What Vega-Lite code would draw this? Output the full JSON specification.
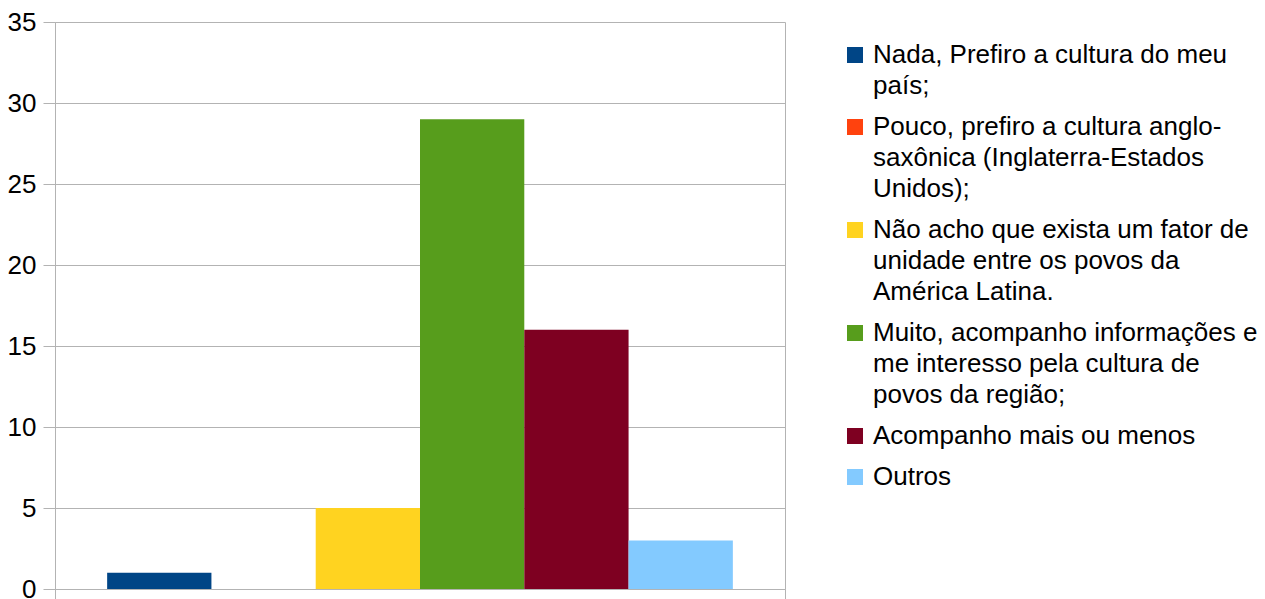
{
  "$schema": "https://vega.github.io/schema/vega-lite/v6.json",
  "width": 730,
  "height": 567,
  "autosize": {"type": "none"},
  "padding": {"left": 55, "top": 22, "right": 480, "bottom": 10},
  "background": "white",
  "config": {
    "font": "Liberation Sans",
    "view": {"stroke": null}
  },
  "data": {
    "values": [
      {"grupo": "1", "resposta": "Nada, Prefiro a cultura do meu país;", "quantidade": 1},
      {"grupo": "1", "resposta": "Pouco, prefiro a cultura anglo-saxônica (Inglaterra-Estados Unidos);", "quantidade": 0},
      {"grupo": "1", "resposta": "Não acho que exista um fator de unidade entre os povos da América Latina.", "quantidade": 5},
      {"grupo": "1", "resposta": "Muito, acompanho informações e me interesso pela cultura de povos da região;", "quantidade": 29},
      {"grupo": "1", "resposta": "Acompanho mais ou menos", "quantidade": 16},
      {"grupo": "1", "resposta": "Outros", "quantidade": 3}
    ]
  },
  "mark": {"type": "bar"},
  "encoding": {
    "x": {
      "field": "grupo",
      "type": "nominal",
      "scale": {"paddingInner": 0, "paddingOuter": 0},
      "axis": {
        "title": null,
        "labels": false,
        "tickBand": "extent",
        "grid": true,
        "gridColor": "#b3b3b3",
        "gridWidth": 1,
        "domainColor": "#b3b3b3",
        "tickColor": "#b3b3b3",
        "tickSize": 15
      }
    },
    "xOffset": {
      "field": "resposta",
      "type": "nominal",
      "sort": null,
      "scale": {"paddingInner": 0, "paddingOuter": 0.5}
    },
    "y": {
      "field": "quantidade",
      "type": "quantitative",
      "scale": {"domain": [0, 35]},
      "axis": {
        "title": null,
        "values": [0, 5, 10, 15, 20, 25, 30, 35],
        "grid": true,
        "gridColor": "#b3b3b3",
        "domainColor": "#b3b3b3",
        "tickColor": "#b3b3b3",
        "tickSize": 12,
        "labelPadding": 7,
        "labelFontSize": 26,
        "labelColor": "#000000"
      }
    },
    "color": {
      "field": "resposta",
      "type": "nominal",
      "sort": null,
      "scale": {
        "domain": [
          "Nada, Prefiro a cultura do meu país;",
          "Pouco, prefiro a cultura anglo-saxônica (Inglaterra-Estados Unidos);",
          "Não acho que exista um fator de unidade entre os povos da América Latina.",
          "Muito, acompanho informações e me interesso pela cultura de povos da região;",
          "Acompanho mais ou menos",
          "Outros"
        ],
        "range": ["#004586", "#ff420e", "#ffd320", "#579d1c", "#7e0021", "#83caff"]
      },
      "legend": {
        "title": null,
        "orient": "right",
        "offset": 37,
        "padding": 20,
        "symbolType": "square",
        "symbolSize": 256,
        "symbolStrokeWidth": 0,
        "labelFontSize": 26,
        "labelColor": "#000000",
        "labelLimit": 600,
        "labelOffset": 5,
        "labelBaseline": "top",
        "rowPadding": 15,
        "labelExpr": "datum.label == 'Nada, Prefiro a cultura do meu país;' ? ['Nada, Prefiro a cultura do meu', 'país;'] : datum.label == 'Pouco, prefiro a cultura anglo-saxônica (Inglaterra-Estados Unidos);' ? ['Pouco, prefiro a cultura anglo-', 'saxônica (Inglaterra-Estados', 'Unidos);'] : datum.label == 'Não acho que exista um fator de unidade entre os povos da América Latina.' ? ['Não acho que exista um fator de', 'unidade entre os povos da', 'América Latina.'] : datum.label == 'Muito, acompanho informações e me interesso pela cultura de povos da região;' ? ['Muito, acompanho informações e', 'me interesso pela cultura de', 'povos da região;'] : datum.label",
        "encode": {
          "labels": {
            "update": {
              "lineHeight": {"value": 31},
              "dy": {"value": -13}
            }
          }
        }
      }
    }
  }
}
